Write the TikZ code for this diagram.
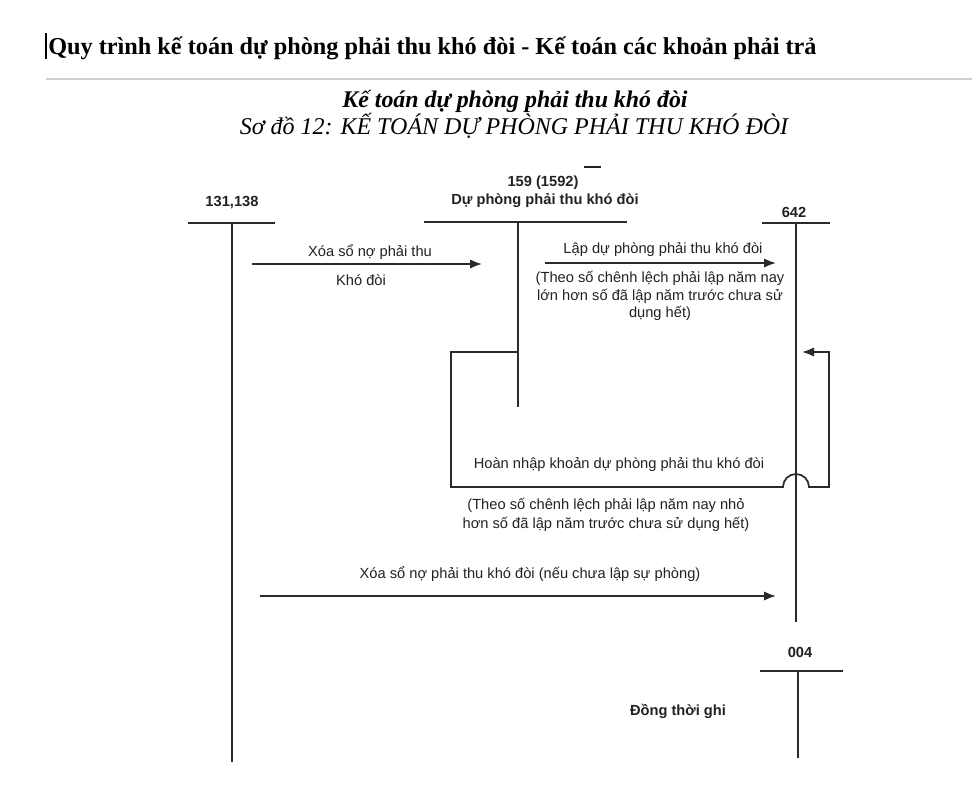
\documentclass[tikz,border=0pt]{standalone}
\usepackage{fontspec}
\setmainfont{Liberation Serif}
\newfontfamily\arialf{Liberation Sans}
\usetikzlibrary{arrows.meta}
\definecolor{ink}{HTML}{222222}
\definecolor{lineink}{HTML}{2A2A2A}
\definecolor{rulegray}{HTML}{D0D0D0}
\tikzset{
  tline/.style={line width=1.3pt, draw=lineink},
  tipstyle/.style={-{Latex[length=9pt,width=7pt]}},
  arr/.style={tline, tipstyle},
  lbl/.style={font=\arialf\fontsize{11}{13}\selectfont, text=ink, inner sep=0pt, align=center},
  acc/.style={font=\arialf\bfseries\fontsize{11}{13}\selectfont, text=ink, inner sep=0pt, align=center},
}
\begin{document}
\begin{tikzpicture}[x=0.75pt,y=-0.75pt]
\useasboundingbox (0,0) rectangle (972,800);
\fill[white] (0,0) rectangle (972,800);
% header
\coordinate (cur1) at (46,33); \coordinate (cur2) at (46,59);
\draw[line width=0.8pt, black] (cur1) -- (cur2);
\node[anchor=base west, inner sep=0pt, font=\bfseries\fontsize{18.2}{21}\selectfont] (title) at (48,54) {Quy trình kế toán dự phòng phải thu khó đòi - Kế toán các khoản phải trả};
\coordinate (r1) at (46,79); \coordinate (r2) at (972,79);
\draw[rulegray, line width=0.8pt] (r1) -- (r2);
\node[anchor=base, inner sep=0pt, font=\bfseries\itshape\fontsize{17.9}{21}\selectfont] (sub1) at (515,107) {Kế toán dự phòng phải thu khó đòi};
\node[anchor=base, inner sep=0pt, font=\itshape\fontsize{18}{21}\selectfont] (sub2) at (514,134) {Sơ đồ 12: KẾ TOÁN DỰ PHÒNG PHẢI THU KHÓ ĐÒI};

% T accounts
\node[acc] (l131) at (232,203) {131,138};
\coordinate (h131a) at (188,223); \coordinate (h131b) at (275,223);
\coordinate (v131t) at (232,223); \coordinate (v131b) at (232,762);
\draw[tline] (h131a) -- (h131b);
\draw[tline] (v131t) -- (v131b);

\node[acc] (l159) at (543,183) {159 (1592)};
\node[acc] (l159b) at (545,201) {Dự phòng phải thu khó đòi};
\coordinate (d1) at (584,167); \coordinate (d2) at (601,167);
\draw[ink, line width=0.9pt] (d1) -- (d2);
\coordinate (h159a) at (424,222); \coordinate (h159b) at (627,222);
\coordinate (v159t) at (518,222); \coordinate (v159b) at (518,407);
\draw[tline] (h159a) -- (h159b);
\draw[tline] (v159t) -- (v159b);

\node[acc] (l642) at (794,212) {642};
\coordinate (h642a) at (762,223); \coordinate (h642b) at (830,223);
\coordinate (v642t) at (796,223); \coordinate (v642b) at (796,622);
\draw[tline] (h642a) -- (h642b);
\draw[tline] (v642t) -- (v642b);

\node[acc] (l004) at (800,652) {004};
\coordinate (h004a) at (760,671); \coordinate (h004b) at (843,671);
\coordinate (v004t) at (798,671); \coordinate (v004b) at (798,758);
\draw[tline] (h004a) -- (h004b);
\draw[tline] (v004t) -- (v004b);
\node[acc] (dtg) at (678,711) {Đồng thời ghi};

% arrow 1
\coordinate (a1s) at (252,264); \coordinate (a1e) at (482,264);
\draw[arr] (a1s) -- (a1e);
\node[lbl] (t1) at (370,252) {Xóa sổ nợ phải thu};
\node[lbl] (t1b) at (361,280) {Khó đòi};

% arrow 2
\coordinate (a2s) at (545,263); \coordinate (a2e) at (776,263);
\draw[arr] (a2s) -- (a2e);
\node[lbl] (t2) at (663,250) {Lập dự phòng phải thu khó đòi};
\node[lbl, font=\arialf\fontsize{11}{13.2}\selectfont] (t2b) at (660,296) {(Theo số chênh lệch phải lập năm nay\\lớn hơn số đã lập năm trước chưa sử\\dụng hết)};

% loop
\coordinate (j1) at (518,352);
\coordinate (lp1) at (451,352); \coordinate (lp2) at (451,487);
\coordinate (lp3) at (783,487); \coordinate (lp4) at (829,487);
\coordinate (lp5) at (829,352); \coordinate (lpe) at (802,352);
\draw[tline, tipstyle] (j1) -- (lp1) -- (lp2) -- (lp3) arc (180:360:13) -- (lp4) -- (lp5) -- (lpe);
\node[lbl] (t3) at (619,465) {Hoàn nhập khoản dự phòng phải thu khó đòi};
\node[lbl, font=\arialf\fontsize{11}{14.3}\selectfont] (t3b) at (606,515) {(Theo số chênh lệch phải lập năm nay nhỏ\\hơn số đã lập năm trước chưa sử dụng hết)};

% arrow 4
\coordinate (a4s) at (260,596); \coordinate (a4e) at (776,596);
\draw[arr] (a4s) -- (a4e);
\node[lbl] (t4) at (530,574) {Xóa sổ nợ phải thu khó đòi (nếu chưa lập sự phòng)};
\end{tikzpicture}
\end{document}
